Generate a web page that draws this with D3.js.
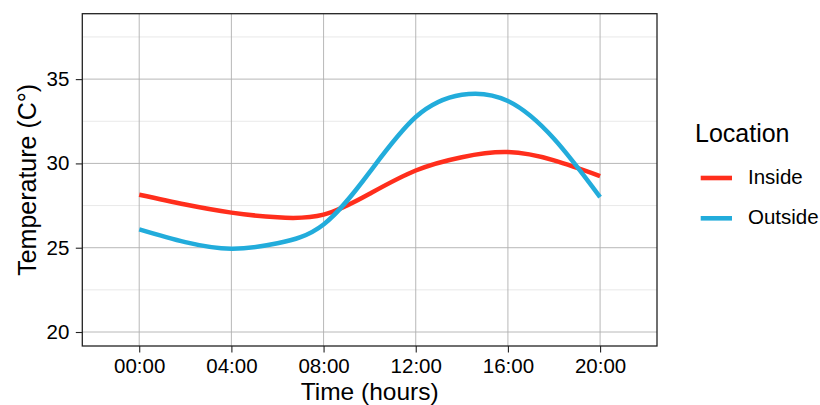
<!DOCTYPE html>
<html>
<head>
<meta charset="utf-8">
<script src="https://cdn.jsdelivr.net/npm/d3@7"></script>
<style>
  body { margin: 0; background: #fff; }
  text { font-family: "Liberation Sans", Arial, sans-serif; fill: #000; }
</style>
</head>
<body>
<div id="chart"></div>
<script>
// hours of the day, sampled every 2h
const hours = [0, 2, 4, 6, 8, 10, 12, 14, 16, 18, 20];
const inside = [28.14, 27.56, 27.08, 26.8, 26.96, 28.2, 29.58, 30.37, 30.67, 30.18, 29.25];
const outside = [26.09, 25.33, 24.94, 25.26, 26.38, 29.48, 32.75, 34.07, 33.7, 31.46, 28.0];
const seriesNames = ["Inside", "Outside"];
const seriesColors = ["#ff2e1c", "#22acdb"];
const xTicks = [0, 4, 8, 12, 16, 20];
const yTicks = [20, 25, 30, 35];
const yMinor = [22.5, 27.5, 32.5, 37.5];

const width = 820, height = 405;
const margin = { top: 13.7, right: 163, bottom: 59, left: 82.3 };

const svg = d3.select("#chart")
    .append("svg")
    .attr("width", width)
    .attr("height", height);

const x = d3.scaleLinear()
    .domain([-2.47, 22.47])
    .range([margin.left, width - margin.right]);

const y = d3.scaleLinear()
    .domain([19.17, 38.88])
    .range([height - margin.bottom, margin.top]);

const fmt = h => String(h).padStart(2, "0") + ":00";

// grid
svg.append("g")
    .selectAll("line")
    .data(yMinor)
    .join("line")
    .attr("x1", x.range()[0]).attr("x2", x.range()[1])
    .attr("y1", d => y(d)).attr("y2", d => y(d))
    .attr("stroke", "#e3e3e3")
    .attr("stroke-width", 0.8);

svg.append("g")
    .selectAll("line")
    .data(yTicks)
    .join("line")
    .attr("x1", x.range()[0]).attr("x2", x.range()[1])
    .attr("y1", d => y(d)).attr("y2", d => y(d))
    .attr("stroke", "#b0b0b0")
    .attr("stroke-width", 0.9);

svg.append("g")
    .selectAll("line")
    .data(xTicks)
    .join("line")
    .attr("x1", d => x(d)).attr("x2", d => x(d))
    .attr("y1", y.range()[0]).attr("y2", y.range()[1])
    .attr("stroke", "#b0b0b0")
    .attr("stroke-width", 0.9);

// lines
const line = d3.line()
    .x((d, i) => x(hours[i]))
    .y(d => y(d))
    .curve(d3.curveNatural);

[inside, outside].forEach((vals, i) => {
    svg.append("path")
        .datum(vals)
        .attr("d", line)
        .attr("fill", "none")
        .attr("stroke", seriesColors[i])
        .attr("stroke-width", 4.5);
});

// panel border
svg.append("rect")
    .attr("x", x.range()[0])
    .attr("y", y.range()[1])
    .attr("width", x.range()[1] - x.range()[0])
    .attr("height", y.range()[0] - y.range()[1])
    .attr("fill", "none")
    .attr("stroke", "#222")
    .attr("stroke-width", 1.3);

// axes
const xAxis = svg.append("g")
    .attr("transform", `translate(0,${y.range()[0]})`)
    .call(d3.axisBottom(x).tickValues(xTicks).tickFormat(fmt).tickSize(6.5).tickPadding(5.5));
const yAxis = svg.append("g")
    .attr("transform", `translate(${x.range()[0]},0)`)
    .call(d3.axisLeft(y).tickValues(yTicks).tickSize(6.5).tickPadding(6.5));

[xAxis, yAxis].forEach(g => {
    g.select(".domain").remove();
    g.selectAll(".tick line").attr("stroke", "#222").attr("stroke-width", 1.1);
    g.selectAll(".tick text")
        .style("font-family", "'Liberation Sans', Arial, sans-serif")
        .style("font-size", "20.5px")
        .attr("fill", "#1a1a1a");
});

// axis titles
svg.append("text")
    .attr("x", (x.range()[0] + x.range()[1]) / 2)
    .attr("y", 399.5)
    .attr("text-anchor", "middle")
    .style("font-size", "24.5px")
    .text("Time (hours)");

svg.append("text")
    .attr("transform", `translate(35.5,${(y.range()[0] + y.range()[1]) / 2}) rotate(-90)`)
    .attr("text-anchor", "middle")
    .style("font-size", "25px")
    .text("Temperature (C°)");

// legend
const legend = svg.append("g").attr("transform", "translate(695,0)");
legend.append("text")
    .attr("x", 0).attr("y", 142.3)
    .style("font-size", "25px")
    .text("Location");

seriesNames.forEach((name, i) => {
    const row = legend.append("g").attr("transform", `translate(0,${178 + i * 40.3})`);
    row.append("line")
        .attr("x1", 5.7).attr("x2", 37)
        .attr("stroke", seriesColors[i])
        .attr("stroke-width", 4.6);
    row.append("text")
        .attr("x", 53).attr("y", 6)
        .style("font-size", "20.5px")
        .text(name);
});
</script>
</body>
</html>
